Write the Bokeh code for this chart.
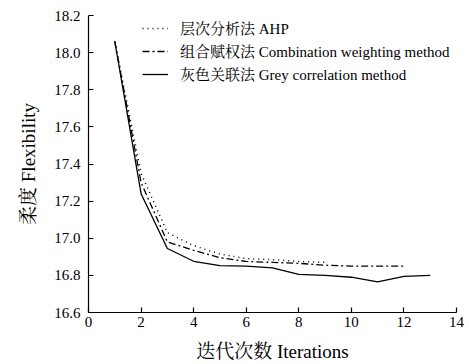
from bokeh.plotting import figure
from bokeh.models import Range1d, FixedTicker, PrintfTickFormatter, Legend, LegendItem
from bokeh.embed import file_html
from bokeh.resources import INLINE

iterations_ahp = [1, 2, 3, 4, 5, 6, 7, 8, 9]
ahp = [18.06, 17.35, 17.03, 16.96, 16.915, 16.89, 16.885, 16.875, 16.87]

iterations_comb = [1, 2, 3, 4, 5, 6, 7, 8, 9, 10, 11, 12]
comb = [18.06, 17.30, 16.98, 16.935, 16.895, 16.875, 16.87, 16.865, 16.855, 16.85, 16.85, 16.85]

iterations_grey = [1, 2, 3, 4, 5, 6, 7, 8, 9, 10, 11, 12, 13]
grey = [18.06, 17.24, 16.945, 16.876, 16.852, 16.85, 16.84, 16.805, 16.80, 16.79, 16.765, 16.795, 16.80]

x_ticks = [0, 2, 4, 6, 8, 10, 12, 14]
y_ticks = [16.6, 16.8, 17.0, 17.2, 17.4, 17.6, 17.8, 18.0, 18.2]

labels = ["层次分析法 AHP", "组合赋权法 Combination weighting method", "灰色关联法 Grey correlation method"]

FONT = "Liberation Serif, Noto Serif CJK SC, Noto Sans CJK SC, serif"

p = figure(width=469, height=364, output_backend="svg", toolbar_location=None,
           x_range=Range1d(0, 14), y_range=Range1d(16.6, 18.2),
           min_border_left=88, min_border_right=13, min_border_top=15, min_border_bottom=52)

p.outline_line_color = None
p.xgrid.visible = False
p.ygrid.visible = False

r1 = p.line(iterations_ahp, ahp, line_color="black", line_width=1.5, line_dash="1 4")
r2 = p.line(iterations_comb, comb, line_color="black", line_width=1.3, line_dash="7 3 2 3")
r3 = p.line(iterations_grey, grey, line_color="black", line_width=1.3)

for ax in (p.xaxis[0], p.yaxis[0]):
    ax.major_tick_in = 5
    ax.major_tick_out = 0
    ax.minor_tick_in = 0
    ax.minor_tick_out = 0
    ax.axis_line_color = "black"
    ax.axis_line_width = 1.2
    ax.major_tick_line_color = "black"
    ax.major_tick_line_width = 1.2
    ax.major_label_text_font = FONT
    ax.major_label_text_font_size = "15px"
    ax.major_label_text_color = "black"
    ax.axis_label_text_font = FONT
    ax.axis_label_text_font_size = "19px"
    ax.axis_label_text_font_style = "normal"
    ax.axis_label_text_color = "black"

p.xaxis[0].ticker = FixedTicker(ticks=x_ticks)
p.yaxis[0].ticker = FixedTicker(ticks=y_ticks)
p.yaxis[0].formatter = PrintfTickFormatter(format="%.1f")
p.xaxis[0].axis_label = "迭代次数 Iterations"
p.yaxis[0].axis_label = "柔度 Flexibility"
p.xaxis[0].major_label_standoff = 4
p.yaxis[0].major_label_standoff = 8
p.xaxis[0].axis_label_standoff = 11
p.yaxis[0].axis_label_standoff = 12

legend = Legend(items=[LegendItem(label=labels[0], renderers=[r1]),
                       LegendItem(label=labels[1], renderers=[r2]),
                       LegendItem(label=labels[2], renderers=[r3])],
                location=(54, 228))
legend.border_line_color = None
legend.background_fill_alpha = 0
legend.label_text_font = FONT
legend.label_text_font_size = "15px"
legend.label_text_color = "black"
legend.glyph_width = 26
legend.glyph_height = 20
legend.spacing = 2
legend.padding = 2
legend.margin = 0
legend.label_standoff = 12
p.add_layout(legend)

open("out.html", "w").write(file_html(p, INLINE))
